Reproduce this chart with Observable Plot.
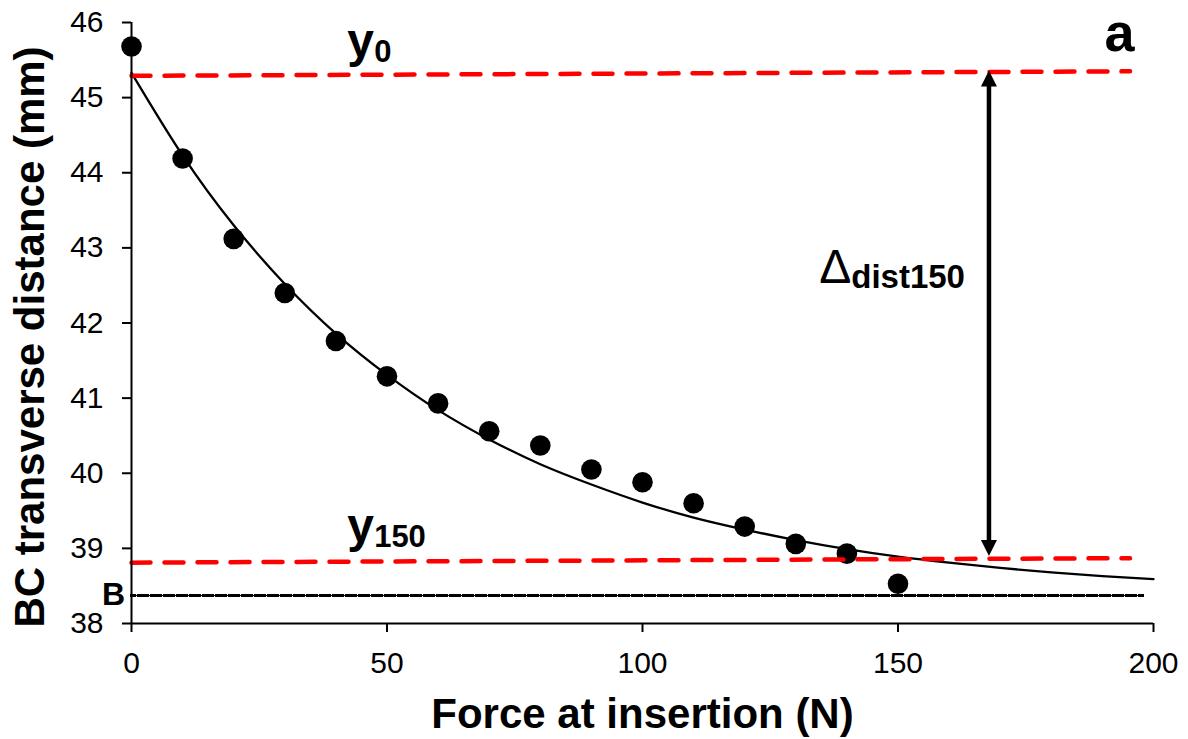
<!DOCTYPE html>
<html><head><meta charset="utf-8">
<script src="https://cdn.jsdelivr.net/npm/d3@7"></script>
<script src="https://cdn.jsdelivr.net/npm/@observablehq/plot@0.6"></script>
<style>
html,body{margin:0;padding:0;background:#fff;}
#chart{width:1188px;height:739px;}
</style></head><body><div id="chart"></div>
<script>
// measured points
const force = [0,10,20,30,40,50,60,70,80,90,100,110,120,130,140,150];
const distance = [45.68,44.19,43.12,42.40,41.76,41.29,40.93,40.56,40.37,40.05,39.88,39.60,39.29,39.06,38.93,38.53];
// fitted curve, read every 10 N
const fitForce = [0,10,20,30,40,50,60,70,80,90,100,110,120,130,140,150,160,170,180,190,200];
const fitDistance = [45.33,44.23,43.30,42.52,41.86,41.31,40.84,40.45,40.12,39.85,39.61,39.41,39.25,39.11,38.99,38.89,38.81,38.74,38.68,38.63,38.59];
// reference lines
const refForce = [0,195.4];
const y0Values = [45.29,45.35];
const y150Values = [38.81,38.87];
const bForce = [0,198];
const bValue = 38.37;
const arrowForce = 167.8;
const arrowEnds = [38.90,45.36];
// ticks
const xTicks = [0,50,100,150,200];
const yTicks = [38,39,40,41,42,43,44,45,46];
// annotation texts (data coordinates)
const subLabels = [
  {main:"y", sub:"0", x:42.2, y:45.536},
  {main:"y", sub:"150", x:42.2, y:39.09}
];
const panelLabel = {text:"a", x:190.4, y:45.62};
const bLabel = {text:"B", x:0, y:38.244};
const deltaLabel = {sym:"\u0394", text:"dist150", x:140.85, y:42.46};
const xTitle = "Force at insertion (N)";
const yTitle = "BC transverse distance (mm)";

const pts = force.map((f,i)=>({x:f, y:distance[i]}));
const fit = fitForce.map((f,i)=>({x:f, y:fitDistance[i]}));
const y0Line = refForce.map((f,i)=>({x:f, y:y0Values[i]}));
const y150Line = refForce.map((f,i)=>({x:f, y:y150Values[i]}));
const bLine = bForce.map(f=>({x:f, y:bValue}));

const upTri = {draw(ctx){ctx.moveTo(0,0);ctx.lineTo(-8,16);ctx.lineTo(8,16);ctx.closePath();}};
const downTri = {draw(ctx){ctx.moveTo(0,0);ctx.lineTo(-8,-16);ctx.lineTo(8,-16);ctx.closePath();}};

const chart = Plot.plot({
  width: 1188, height: 739,
  marginLeft: 131, marginRight: 35, marginTop: 22, marginBottom: 116,
  style: {fontFamily: "'Liberation Sans', Arial, sans-serif", background: "white", color: "black"},
  x: {domain: [0,200]},
  y: {domain: [38,46]},
  marks: [
    Plot.line(fit, {x:"x", y:"y", curve:"natural", stroke:"black", strokeWidth:2.3}),
    Plot.dot(pts, {x:"x", y:"y", r:10.3, fill:"black", stroke:"none"}),
    Plot.line(y0Line, {x:"x", y:"y", stroke:"#ff0000", strokeWidth:4.5, strokeDasharray:"19,14"}),
    Plot.line(y150Line, {x:"x", y:"y", stroke:"#ff0000", strokeWidth:4.5, strokeDasharray:"19,14"}),
    Plot.line(bLine, {x:"x", y:"y", stroke:"black", strokeWidth:3.5, strokeDasharray:"3.3,3.2", shapeRendering:"crispEdges"}),
    Plot.ruleX([arrowForce], {x:d=>d, y1:arrowEnds[0]+0.1, y2:arrowEnds[1]-0.1, stroke:"black", strokeWidth:4.5}),
    Plot.dot([arrowForce], {x:d=>d, y:arrowEnds[1], symbol:upTri, fill:"black", stroke:"none"}),
    Plot.dot([arrowForce], {x:d=>d, y:arrowEnds[0], symbol:downTri, fill:"black", stroke:"none"}),
    Plot.ruleX([0], {stroke:"black", strokeWidth:2}),
    Plot.ruleY([38], {stroke:"black", strokeWidth:2}),
    Plot.axisX({ticks:xTicks, tickSize:9, tickPadding:19, fontSize:30, strokeWidth:2, label:null}),
    Plot.axisY({ticks:yTicks, tickSize:9, tickPadding:19, fontSize:30, strokeWidth:2, label:null}),
    Plot.text(subLabels, {x:"x", y:"y", text:"main", fontSize:48, fontWeight:"bold", textAnchor:"start", lineAnchor:"bottom", fill:"black"}),
    Plot.text(subLabels, {x:"x", y:"y", text:"sub", fontSize:31, fontWeight:"bold", textAnchor:"start", lineAnchor:"bottom", dx:27, dy:5, fill:"black"}),
    Plot.text([panelLabel], {x:"x", y:"y", text:"text", fontSize:54, fontWeight:"bold", textAnchor:"start", lineAnchor:"bottom", fill:"black"}),
    Plot.text([bLabel], {x:"x", y:"y", text:"text", fontSize:32, fontWeight:"bold", textAnchor:"end", lineAnchor:"bottom", dx:-6.4, fill:"black"}),
    Plot.text([deltaLabel], {x:"x", y:"y", text:"text", fontSize:33, fontWeight:"bold", textAnchor:"start", lineAnchor:"bottom", fill:"black"}),
    Plot.text([deltaLabel], {x:"x", y:"y", text:"sym", fontSize:48, fontWeight:"normal", textAnchor:"start", lineAnchor:"bottom", dx:-32, dy:-5, fill:"black"}),
    Plot.text([xTitle], {frameAnchor:"bottom", text:d=>d, fontSize:42, fontWeight:"bold", textAnchor:"middle", lineAnchor:"bottom", dy:104, fill:"black"}),
    Plot.text([yTitle], {frameAnchor:"left", text:d=>d, fontSize:42, fontWeight:"bold", textAnchor:"middle", lineAnchor:"bottom", rotate:-90, dx:-87.7, dy:14, fill:"black"})
  ]
});
document.getElementById("chart").appendChild(chart);
</script>
</body></html>
